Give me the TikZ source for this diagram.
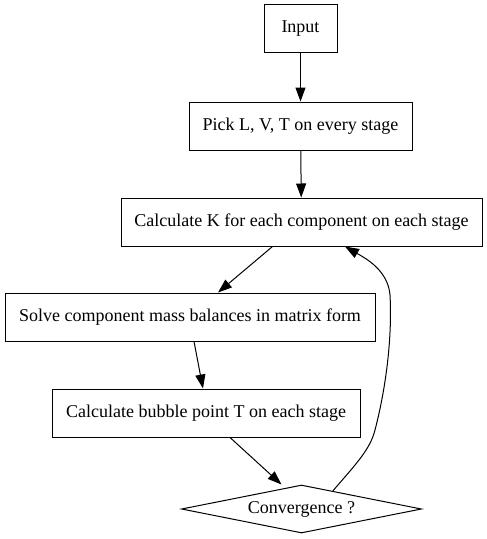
\documentclass[tikz,border=0pt]{standalone}
\usepackage{fontspec}
\setmainfont{Liberation Serif}
\usetikzlibrary{shapes.geometric, arrows.meta}

\begin{document}
\begin{tikzpicture}[x=1pt,y=-1pt,
    box/.style={draw, rectangle, line width=1pt, minimum height=48pt, inner sep=0pt, font=\fontsize{18}{21}\selectfont},
    decision/.style={draw, diamond, line width=1pt, aspect=5, minimum width=240pt, minimum height=48pt, inner sep=0pt, font=\fontsize{18}{21}\selectfont},
    arr/.style={-{Triangle[length=14pt,width=10pt]}, line width=1pt}]
            \useasboundingbox (0,0) rectangle (487,539);
            \node[box, minimum width=73pt] (input) at (300.5,28.5) {Input};
            \node[box, minimum width=223pt] (pick) at (300.5,126) {Pick L, V, T on every stage};
            \node[box, minimum width=361pt] (calck) at (301.5,222) {Calculate K for each component on each stage};
            \node[box, minimum width=370pt] (solve) at (190,317) {Solve component mass balances in matrix form};
            \node[box, minimum width=308pt] (bubble) at (206,413) {Calculate bubble point T on each stage};
            \node[decision] (conv) at (301.5,509) {Convergence ?};
                \draw[arr] (input) -- (pick);
                \draw[arr] (pick) -- (calck);
                \draw[arr] ([xshift=-29pt]calck.south) -- ([xshift=28pt]solve.north);
                \draw[arr] ([xshift=4pt]solve.south) -- ([xshift=-3pt]bubble.north);
                \draw[arr] ([xshift=24pt]bubble.south) -- ([xshift=-20pt]conv.north);
                \draw[arr] (conv.30) .. controls (355,465) and (370,450) .. (375,430)
                    .. controls (388,380) and (392,330) .. (390,295)
                    .. controls (388,270) and (365,258) .. ([xshift=43.5pt]calck.south);
        \end{tikzpicture}
\end{document}
